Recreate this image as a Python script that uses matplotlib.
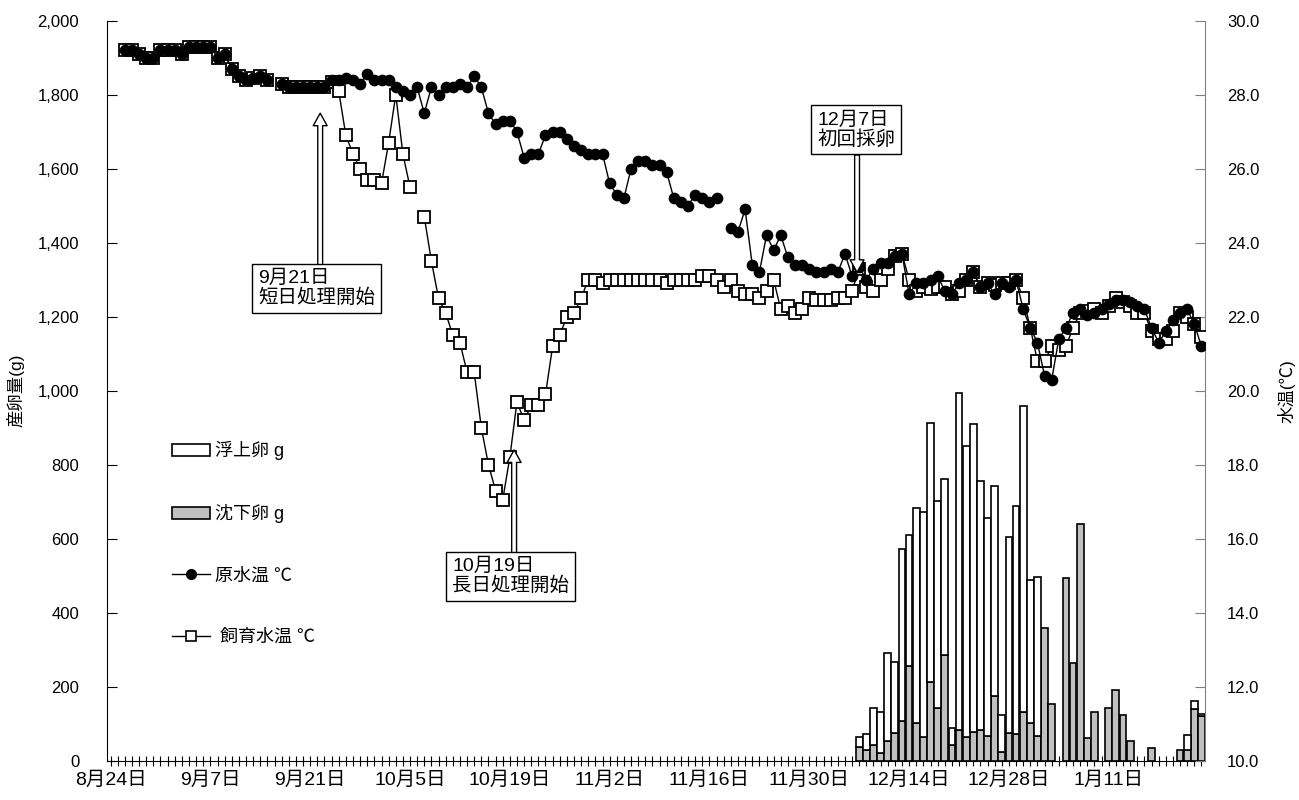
import numpy as np
import matplotlib.pyplot as plt
from matplotlib.patches import Patch
from matplotlib.lines import Line2D
from matplotlib.ticker import FuncFormatter

plt.rcParams['font.family'] = ['Liberation Sans', 'Noto Sans CJK JP']

nan = np.nan

# day index 0 = 8月24日, one category per day
n_days = 154
label_days = [0, 14, 28, 42, 56, 70, 84, 98, 112, 126, 140]
date_labels = ['8月24日', '9月7日', '9月21日', '10月5日', '10月19日', '11月2日',
               '11月16日', '11月30日', '12月14日', '12月28日', '1月11日']

# 原水温 (℃)
raw_temp = [nan, nan, 29.2, 29.2, 29.1, 29.0, 29.0, 29.2, 29.2, 29.2,
            29.1, 29.3, 29.3, 29.3, 29.3, 29.0, 29.1, 28.7, 28.5, 28.4,
            28.45, 28.5, 28.4, nan, 28.3, 28.2, 28.2, 28.2, 28.2, 28.2,
            28.2, 28.4, 28.4, 28.45, 28.4, 28.3, 28.55, 28.4, 28.4, 28.4,
            28.2, 28.1, 28.0, 28.2, 27.5, 28.2, 28.0, 28.2, 28.2, 28.3,
            28.2, 28.5, 28.2, 27.5, 27.2, 27.3, 27.3, 27.0, 26.3, 26.4,
            26.4, 26.9, 27.0, 27.0, 26.8, 26.6, 26.5, 26.4, 26.4, 26.4,
            25.6, 25.3, 25.2, 26.0, 26.2, 26.2, 26.1, 26.1, 25.9, 25.2,
            25.1, 25.0, 25.3, 25.2, 25.1, 25.2, nan, 24.4, 24.3, 24.9,
            23.4, 23.2, 24.2, 23.8, 24.2, 23.6, 23.4, 23.4, 23.3, 23.2,
            23.2, 23.3, 23.2, 23.7, 23.1, 23.35, 23.0, 23.3, 23.45, 23.45,
            23.65, 23.7, 22.6, 22.9, 22.9, 23.0, 23.1, 22.7, 22.6, 22.9,
            23.0, 23.2, 22.8, 22.9, 22.6, 22.9, 22.8, 23.0, 22.2, 21.7,
            21.3, 20.4, 20.3, 21.4, 21.7, 22.1, 22.2, 22.05, 22.1, 22.2,
            22.35, 22.45, 22.45, 22.4, 22.3, 22.2, 21.7, 21.3, 21.6, 21.9,
            22.1, 22.2, 21.8, 21.2]

# 飼育水温 (℃)
rear_temp = [nan, nan, 29.2, 29.2, 29.1, 29.0, 29.0, 29.2, 29.2, 29.2,
             29.1, 29.3, 29.3, 29.3, 29.3, 29.0, 29.1, 28.7, 28.5, 28.4,
             28.45, 28.5, 28.4, nan, 28.3, 28.2, 28.2, 28.2, 28.2, 28.2,
             28.2, 28.33, 28.1, 26.9, 26.4, 26.0, 25.7, 25.7, 25.6, 26.7,
             28.0, 26.4, 25.5, nan, 24.7, 23.5, 22.5, 22.1, 21.5, 21.3,
             20.5, 20.5, 19.0, 18.0, 17.3, 17.05, 18.2, 19.7, 19.2, 19.6,
             19.6, 19.9, 21.2, 21.5, 22.0, 22.1, 22.5, 23.0, 23.0, 22.9,
             23.0, 23.0, 23.0, 23.0, 23.0, 23.0, 23.0, 23.0, 22.9, 23.0,
             23.0, 23.0, 23.0, 23.1, 23.1, 23.0, 22.8, 23.0, 22.7, 22.6,
             22.6, 22.5, 22.7, 23.0, 22.2, 22.3, 22.1, 22.2, 22.5, 22.45,
             22.45, 22.45, 22.5, 22.5, 22.7, 23.3, 22.8, 22.7, 23.0, 23.3,
             23.65, 23.7, 23.0, 22.7, 22.8, 22.75, 22.8, 22.8, 22.6, 22.7,
             23.0, 23.2, 22.8, 22.9, 22.85, 22.9, 22.9, 23.0, 22.5, 21.7,
             20.8, 20.8, 21.2, 21.1, 21.2, 21.7, 22.1, 22.15, 22.2, 22.1,
             22.3, 22.5, 22.4, 22.3, 22.1, 22.1, 21.6, 21.4, 21.4, 21.6,
             22.1, 22.0, 21.8, 21.45]

# eggs (g), from 12月7日 (day 105) to the end
egg_start = 105
sink_eggs = [36, 29, 42, 20, 52, 74, 106, 257, 101, 65,
             214, 142, 286, 42, 83, 63, 77, 83, 66, 176,
             23, 76, 72, 132, 101, 68, 358, 153, 0, 493,
             263, 641, 61, 132, 0, 142, 192, 123, 52, 0,
             0, 33, 0, 0, 0, 29, 29, 140, 120]
float_eggs = [29, 43, 100, 111, 239, 192, 466, 353, 582, 606,
              699, 561, 476, 46, 911, 787, 832, 674, 590, 566,
              101, 529, 617, 827, 387, 428, 0, 0, 0, 0,
              0, 0, 0, 0, 0, 0, 0, 0, 0, 0,
              0, 0, 0, 0, 0, 0, 41, 22, 5]

days = np.arange(n_days)
egg_days = np.arange(egg_start, egg_start + len(sink_eggs))
sink = np.array(sink_eggs, dtype=float)
flt = np.array(float_eggs, dtype=float)

fig = plt.figure(figsize=(12.99, 8), dpi=100)
ax = fig.add_axes([107 / 1299, 39.3 / 800, 1098 / 1299, 740 / 800])
ax2 = ax.twinx()

# bars
m = sink > 0
ax.bar(egg_days[m], sink[m], width=0.95, color='#c0c0c0', edgecolor='black', linewidth=1.2, zorder=2)
m = flt > 0
ax.bar(egg_days[m], flt[m], bottom=sink[m], width=0.95, color='white', edgecolor='black', linewidth=1.2, zorder=2)

# temperature lines
ax2.plot(days, rear_temp, color='black', lw=1, marker='s', ms=8.8, mfc='white', mec='black', mew=1.3, zorder=3)
ax2.plot(days, raw_temp, color='black', lw=1, marker='o', ms=7.4, mfc='black', mec='black', zorder=4)

ax.set_xlim(-0.5, n_days - 0.5)
ax.set_ylim(0, 2000)
ax2.set_ylim(10, 30)

ax.set_yticks(np.arange(0, 2001, 200))
ax.yaxis.set_major_formatter(FuncFormatter(lambda v, p: f'{int(v):,}'))
ax2.set_yticks(np.arange(10, 30.1, 2))
ax2.yaxis.set_major_formatter(FuncFormatter(lambda v, p: f'{v:.1f}'))

ax.set_xticks(days)
ax.set_xticklabels([date_labels[label_days.index(d)] if d in label_days else '' for d in days])
ax.tick_params(axis='x', direction='inout', length=7, width=0.8, labelsize=14, pad=4)
ax.tick_params(axis='y', direction='in', length=7, width=0.8, labelsize=12, pad=20)
ax2.tick_params(axis='y', direction='in', length=7, width=0.8, labelsize=12, pad=16, colors='black')

for s in ['top', 'right']:
    ax.spines[s].set_visible(False)
for s in ['top', 'left', 'bottom']:
    ax2.spines[s].set_visible(False)
ax2.spines['right'].set_color('#808080')
ax2.tick_params(axis='y', color='#808080')

ax.set_ylabel('産卵量(g)', fontsize=12.5)
ax.yaxis.set_label_coords(-0.075, 0.5)
ax2.set_ylabel('水温(℃)', fontsize=12.5)
ax2.yaxis.set_label_coords(1.066, 0.5)

# legend
handles = [Patch(facecolor='white', edgecolor='black', lw=1.2),
           Patch(facecolor='#c0c0c0', edgecolor='black', lw=1.2),
           Line2D([], [], color='black', lw=1, marker='o', ms=7, mfc='black'),
           Line2D([], [], color='black', lw=1, marker='s', ms=7, mfc='white', mew=1.2)]
labels = ['浮上卵 g', '沈下卵 g', '原水温 ℃', ' 飼育水温 ℃']
ax.legend(handles, labels, loc='upper left', bbox_to_anchor=(0.059, 0.432), frameon=False,
          fontsize=13, handlelength=2.1, handleheight=0.65, handletextpad=0.3,
          labelspacing=2.45, borderpad=0, borderaxespad=0)

# annotations
box = dict(boxstyle='square,pad=0.3', fc='white', ec='black', lw=1)
arrow = dict(arrowstyle='simple,head_length=0.9,head_width=1.0,tail_width=0.35',
             fc='white', ec='black', lw=1, shrinkA=0, shrinkB=0, mutation_scale=10)

ax2.annotate('', xy=(29.4, 27.5), xytext=(29.4, 23.4), arrowprops=arrow, zorder=6)
ax2.text(20.7, 22.76, '9月21日\n短日処理開始', ha='left', va='center', fontsize=14,
         linespacing=1.1, bbox=box, zorder=7)

ax2.annotate('', xy=(56.6, 18.4), xytext=(56.6, 15.61), arrowprops=arrow, zorder=6)
ax2.text(47.9, 14.98, '10月19日\n長日処理開始', ha='left', va='center', fontsize=14,
         linespacing=1.1, bbox=box, zorder=7)

ax2.annotate('', xy=(104.7, 23.2), xytext=(104.7, 26.37), arrowprops=arrow, zorder=6)
ax2.text(99.1, 27.05, '12月7日\n初回採卵', ha='left', va='center', fontsize=14,
         linespacing=1.1, bbox=box, zorder=7)

fig.savefig('out.png', dpi=100)
